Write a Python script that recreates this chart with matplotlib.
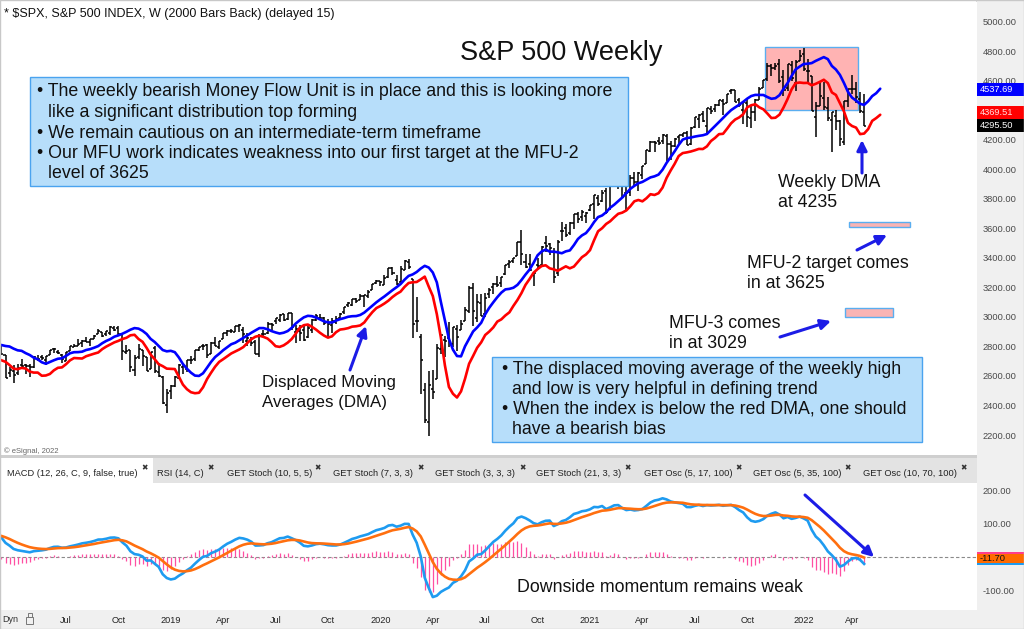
import numpy as np
import pandas as pd
import matplotlib
matplotlib.use("Agg")
import matplotlib.pyplot as plt
from matplotlib.collections import LineCollection
from matplotlib.patches import Rectangle, FancyArrowPatch

plt.rcParams['font.family'] = ['Liberation Sans', 'DejaVu Sans']

# ---------------- data: weekly S&P 500 bars (week starting Monday) ----------------
first_week = "2017-07-03"

opens = [
    # 2017 (Jul-Dec)
    2431, 2424, 2459, 2476, 2475, 2478, 2454, 2425, 2442, 2470, 2474, 2502, 2500,
    2521, 2551, 2555, 2578, 2588, 2588, 2580, 2579, 2603, 2657, 2653, 2685, 2684,
    # 2018
    2683, 2743, 2798, 2809, 2867, 2741, 2636, 2722, 2757, 2681, 2791, 2741, 2619,
    2633, 2618, 2671, 2675, 2670, 2663, 2718, 2726, 2705, 2742, 2781, 2763, 2742,
    2704, 2769, 2799, 2804, 2820, 2840, 2827, 2853, 2884, 2897, 2882, 2890, 2925,
    2926, 2882, 2763, 2773, 2640, 2726, 2773, 2730, 2650, 2790, 2630, 2591, 2401, 2498,
    # 2019
    2535, 2584, 2664, 2644, 2706, 2712, 2774, 2805, 2812, 2747, 2823, 2796,
    2848, 2888, 2908, 2898, 2940, 2909, 2840, 2841, 2830, 2752, 2885, 2889, 2951,
    2971, 2980, 3018, 2985, 3025, 2898, 2908, 2913, 2867, 2910, 2981, 2996, 2994, 2967,
    2944, 2966, 2996, 3034, 3079, 3081, 3123, 3117, 3144, 3141, 3183, 3227, 3240,
    # 2020
    3217, 3271, 3334, 3248, 3235, 3318, 3370, 3257, 2974, 2863, 2508, 2290, 2514,
    2578, 2782, 2845, 2854, 2815, 2915, 2913, 2969, 3038, 3199, 2994, 3094, 3018,
    3155, 3201, 3224, 3230, 3289, 3357, 3380, 3410, 3507, 3370, 3356, 3285, 3350,
    3349, 3500, 3493, 3441, 3296, 3583, 3600, 3566, 3634, 3698, 3675, 3684, 3723,
    # 2021
    3764, 3803, 3788, 3851, 3731, 3886, 3939, 3886, 3842, 3844, 3942, 3916, 3964,
    4034, 4124, 4183, 4193, 4191, 4229, 4169, 4158, 4216, 4230, 4248, 4174, 4285,
    4344, 4372, 4296, 4409, 4406, 4438, 4461, 4450, 4529, 4535, 4469, 4402, 4450,
    4348, 4385, 4471, 4553, 4610, 4697, 4689, 4712, 4628, 4548, 4707, 4588, 4734,
    # 2022
    4778, 4669, 4632, 4357, 4432, 4483, 4412, 4332, 4363, 4328, 4188, 4462, 4541,
    4547, 4474, 4385,
]

highs = [
    # 2017
    2436, 2463, 2477, 2484, 2480, 2490, 2474, 2454, 2477, 2472, 2500, 2509, 2520,
    2552, 2557, 2575, 2582, 2589, 2598, 2590, 2605, 2657, 2665, 2679, 2695, 2692,
    # 2018
    2743, 2787, 2810, 2873, 2870, 2763, 2754, 2748, 2789, 2787, 2802, 2741, 2661,
    2673, 2680, 2718, 2683, 2682, 2732, 2743, 2742, 2736, 2779, 2791, 2775, 2746,
    2760, 2804, 2816, 2848, 2841, 2863, 2853, 2876, 2916, 2901, 2908, 2941, 2940,
    2940, 2894, 2813, 2779, 2741, 2815, 2775, 2731, 2760, 2800, 2686, 2601, 2510, 2539,
    # 2019
    2598, 2681, 2672, 2709, 2738, 2775, 2794, 2814, 2816, 2830, 2861, 2836,
    2894, 2910, 2917, 2940, 2955, 2931, 2892, 2865, 2841, 2885, 2911, 2964, 2959,
    2996, 3017, 3018, 3028, 3027, 2945, 2943, 2939, 2940, 2985, 3021, 3022, 3002, 2983,
    2993, 3008, 3027, 3067, 3098, 3121, 3127, 3154, 3150, 3183, 3226, 3248, 3246,
    # 2020
    3282, 3329, 3337, 3285, 3347, 3385, 3393, 3259, 3137, 2883, 2553, 2637, 2641,
    2818, 2879, 2869, 2965, 2934, 2945, 2980, 3068, 3212, 3233, 3155, 3155, 3165,
    3199, 3233, 3279, 3272, 3352, 3387, 3399, 3509, 3588, 3425, 3428, 3306, 3397,
    3482, 3550, 3502, 3466, 3521, 3646, 3628, 3645, 3700, 3713, 3726, 3711, 3760,
    # 2021
    3827, 3824, 3859, 3871, 3889, 3935, 3950, 3929, 3914, 3960, 3983, 3979, 4020,
    4129, 4191, 4195, 4219, 4238, 4236, 4190, 4213, 4234, 4249, 4262, 4286, 4355,
    4372, 4394, 4415, 4429, 4440, 4468, 4478, 4513, 4545, 4535, 4486, 4466, 4476,
    4429, 4475, 4559, 4608, 4718, 4714, 4718, 4744, 4672, 4713, 4731, 4740, 4808,
    # 2022
    4819, 4749, 4632, 4453, 4595, 4590, 4490, 4385, 4402, 4331, 4465, 4546, 4637,
    4594, 4521, 4513,
]

lows = [
    # 2017
    2407, 2416, 2455, 2459, 2465, 2437, 2417, 2417, 2428, 2446, 2474, 2496, 2493,
    2521, 2547, 2550, 2544, 2566, 2566, 2557, 2578, 2598, 2624, 2652, 2673, 2673,
    # 2018
    2683, 2737, 2778, 2808, 2759, 2533, 2622, 2675, 2647, 2659, 2741, 2585, 2594,
    2553, 2605, 2660, 2612, 2595, 2655, 2702, 2708, 2676, 2741, 2753, 2749, 2691,
    2699, 2769, 2795, 2804, 2796, 2829, 2802, 2853, 2882, 2864, 2872, 2879, 2903,
    2874, 2710, 2750, 2628, 2603, 2717, 2670, 2631, 2649, 2621, 2593, 2409, 2347, 2444,
    # 2019
    2525, 2580, 2612, 2630, 2684, 2703, 2768, 2775, 2722, 2747, 2800, 2785,
    2848, 2873, 2891, 2898, 2901, 2825, 2801, 2805, 2750, 2728, 2873, 2887, 2912,
    2952, 2966, 2970, 2977, 2914, 2822, 2840, 2834, 2856, 2891, 2969, 2990, 2946, 2856,
    2892, 2952, 2985, 3023, 3066, 3077, 3091, 3117, 3070, 3125, 3183, 3224, 3212,
    # 2020
    3214, 3264, 3281, 3214, 3235, 3316, 3328, 2855, 2901, 2478, 2281, 2191, 2447,
    2578, 2749, 2727, 2797, 2798, 2766, 2909, 2969, 3026, 2936, 2966, 3004, 3000,
    3127, 3154, 3200, 3205, 3284, 3333, 3364, 3410, 3349, 3329, 3314, 3209, 3323,
    3349, 3442, 3419, 3233, 3280, 3511, 3543, 3553, 3594, 3633, 3647, 3636, 3715,
    # 2021
    3663, 3753, 3778, 3694, 3725, 3884, 3866, 3806, 3723, 3820, 3889, 3853, 3937,
    4034, 4118, 4118, 4164, 4169, 4057, 4062, 4154, 4167, 4220, 4164, 4165, 4279,
    4280, 4321, 4233, 4372, 4385, 4431, 4367, 4450, 4513, 4458, 4425, 4306, 4288,
    4278, 4329, 4470, 4551, 4595, 4630, 4672, 4585, 4495, 4532, 4600, 4531, 4733,
    # 2022
    4663, 4582, 4395, 4222, 4427, 4401, 4327, 4115, 4268, 4157, 4162, 4424, 4507,
    4451, 4381, 4292,
]

closes = [
    # 2017
    2425, 2459, 2473, 2472, 2476, 2441, 2426, 2443, 2477, 2461, 2500, 2502, 2519,
    2549, 2553, 2575, 2581, 2588, 2582, 2579, 2602, 2642, 2652, 2675, 2683, 2674,
    # 2018
    2743, 2786, 2810, 2873, 2762, 2620, 2732, 2747, 2691, 2786, 2752, 2588, 2641,
    2604, 2656, 2670, 2670, 2663, 2728, 2713, 2721, 2735, 2779, 2780, 2755, 2718,
    2760, 2801, 2802, 2819, 2840, 2833, 2850, 2874, 2902, 2872, 2905, 2930, 2914,
    2886, 2767, 2768, 2659, 2723, 2781, 2736, 2633, 2760, 2633, 2600, 2417, 2486, 2532,
    # 2019
    2596, 2671, 2665, 2707, 2708, 2776, 2793, 2804, 2743, 2822, 2800, 2834,
    2893, 2907, 2905, 2940, 2946, 2881, 2860, 2826, 2752, 2873, 2887, 2950, 2942,
    2990, 3014, 2977, 3026, 2932, 2919, 2889, 2847, 2926, 2979, 3007, 2992, 2961, 2952,
    2970, 2986, 3023, 3067, 3093, 3120, 3110, 3141, 3146, 3169, 3221, 3240, 3235,
    # 2020
    3265, 3329, 3295, 3226, 3328, 3380, 3338, 2954, 2972, 2711, 2305, 2541, 2489,
    2790, 2875, 2837, 2831, 2930, 2864, 2955, 3044, 3194, 3041, 3098, 3009, 3130,
    3185, 3224, 3216, 3271, 3351, 3373, 3397, 3508, 3427, 3341, 3319, 3298, 3348,
    3477, 3483, 3465, 3270, 3509, 3585, 3558, 3638, 3699, 3663, 3709, 3703, 3756,
    # 2021
    3825, 3768, 3841, 3714, 3887, 3935, 3907, 3811, 3842, 3943, 3913, 3975, 4020,
    4129, 4185, 4180, 4181, 4233, 4174, 4156, 4204, 4230, 4247, 4166, 4281, 4352,
    4370, 4327, 4412, 4395, 4437, 4468, 4442, 4509, 4535, 4459, 4433, 4455, 4357,
    4391, 4471, 4545, 4605, 4697, 4683, 4698, 4595, 4538, 4712, 4621, 4726, 4766,
    # 2022
    4677, 4663, 4398, 4432, 4500, 4419, 4349, 4385, 4329, 4204, 4463, 4543, 4546,
    4488, 4392, 4295.5,
]

# values printed in the right-hand value boxes
last_price = 4295.50
dma_high_last = 4537.69
dma_low_last = 4369.51
macd_signal_last = -11.70

# study settings
dma_len, dma_shift = 6, 4
macd_fast, macd_slow, macd_sig = 12, 26, 9

price_ticks = list(range(2200, 5001, 200))
hidden_price_ticks = [4400]          # covered by the value boxes in the original
macd_ticks = [-100, 100, 200]

# annotation levels
mfu2_level = (3611, 3645)
mfu3_level = (3001, 3062)
dist_zone = (4402, 4829)

tab_labels = ["MACD (12, 26, C, 9, false, true)", "RSI (14, C)", "GET Stoch (10, 5, 5)",
              "GET Stoch (7, 3, 3)", "GET Stoch (3, 3, 3)", "GET Stoch (21, 3, 3)",
              "GET Osc (5, 17, 100)", "GET Osc (5, 35, 100)", "GET Osc (10, 70, 100)"]

# ---------------- derived studies ----------------
n = len(closes)
assert len(opens) == len(highs) == len(lows) == n
dates = pd.date_range(first_week, periods=n, freq="7D")
idx = np.arange(n)
hi = pd.Series(highs, dtype=float)
lo = pd.Series(lows, dtype=float)
cl = pd.Series(closes, dtype=float)
dma_hi = hi.rolling(dma_len).mean().values
dma_lo = lo.rolling(dma_len).mean().values
x_dma = idx + dma_shift
macd = cl.ewm(span=macd_fast, adjust=False).mean() - cl.ewm(span=macd_slow, adjust=False).mean()
signal = macd.ewm(span=macd_sig, adjust=False).mean()
hist = (macd - signal).values

# ---------------- layout helpers (pixels) ----------------
W, H = 1024, 629
fig = plt.figure(figsize=(W / 100, H / 100), dpi=100)
fig.patch.set_facecolor("white")


def fx(px):
    return px / W


def fy(py):
    return 1 - py / H


i_ref = int(np.where(dates == pd.Timestamp("2020-03-30"))[0][0])
PX_REF, PX_STEP = 432.8, 4.031
PLOT_R = 977


def ix(px):
    return i_ref + (px - PX_REF) / PX_STEP


def price_at(py):
    return 5000 - (py - 21.7) / 0.14761


def py_price(p):
    return 21.7 + (5000 - p) * 0.14761


def macd_at(py):
    return (557 - py) / 0.335


# background strips
def frect(x0, y0, x1, y1, fc, ec="none", lw=0, z=-5):
    r = Rectangle((fx(x0), fy(y1)), fx(x1) - fx(x0), fy(y0) - fy(y1), transform=fig.transFigure,
                  facecolor=fc, edgecolor=ec, linewidth=lw, zorder=z)
    fig.add_artist(r)
    return r


frect(PLOT_R, 0, W, H, "#f0f0f0")
frect(0, 455, PLOT_R, 483, "#e3e3e3")
frect(0, 455, PLOT_R, 458, "#cfcfcf")
frect(0, 458, 153, 483, "#ffffff")
frect(0, 610, PLOT_R, H, "#f0f0f0")
frect(PLOT_R - 1, 0, PLOT_R, 455, "#dcdcdc")
frect(0, 0, W, H, "none", ec="#c8c8c8", lw=1.0, z=10)

# ---------------- price panel ----------------
ax = fig.add_axes([0, fy(455), fx(PLOT_R), (455 - 2) / H])
ax.set_xlim(ix(0), ix(PLOT_R))
ax.set_ylim(price_at(455), price_at(2))
for s in ax.spines.values():
    s.set_visible(False)
ax.set_xticks([])
ax.yaxis.tick_right()
ax.set_yticks(price_ticks)
ax.set_yticklabels(["" if t in hidden_price_ticks else f"{t:.2f}" for t in price_ticks])
ax.tick_params(axis="y", length=0, pad=4, labelsize=6.7, labelcolor="#4a4a4a")

# distribution zone box
ax.add_patch(Rectangle((ix(765), dist_zone[0]), ix(858) - ix(765), dist_zone[1] - dist_zone[0],
                       facecolor="#ffb3b3", edgecolor="#5aaef0", linewidth=1.0, zorder=1))
# MFU target boxes
ax.add_patch(Rectangle((ix(849), mfu2_level[0]), ix(910) - ix(849), mfu2_level[1] - mfu2_level[0],
                       facecolor="#f9b4b4", edgecolor="#5aaef0", linewidth=1.0, zorder=1))
ax.add_patch(Rectangle((ix(845), mfu3_level[0]), ix(893) - ix(845), mfu3_level[1] - mfu3_level[0],
                       facecolor="#f9b4b4", edgecolor="#5aaef0", linewidth=1.0, zorder=1))

segs = []
for i in idx:
    segs.append([(i, lows[i]), (i, highs[i])])
    segs.append([(i - 0.5, opens[i]), (i, opens[i])])
    segs.append([(i, closes[i]), (i + 0.5, closes[i])])
ax.add_collection(LineCollection(segs, colors="black", linewidths=1.1, zorder=3))
ax.plot(x_dma, dma_hi, color="#0000ff", lw=1.9, zorder=4, solid_capstyle="round")
ax.plot(x_dma, dma_lo, color="#ff0000", lw=1.9, zorder=4, solid_capstyle="round")

# ---------------- MACD panel ----------------
ax2 = fig.add_axes([0, fy(610), fx(PLOT_R), (610 - 483) / H])
ax2.set_xlim(ix(0), ix(PLOT_R))
ax2.set_ylim(macd_at(610), macd_at(483))
for s in ax2.spines.values():
    s.set_visible(False)
ax2.axhline(0, color="#8a8a8a", lw=0.8, ls=(0, (3, 2)), zorder=1)
ax2.vlines(idx, 0, hist, colors="#ff4fa3", lw=0.9, zorder=2)
ax2.plot(idx, macd, color="#1e9bf0", lw=1.9, zorder=3)
ax2.plot(idx, signal, color="#ff6f0f", lw=1.9, zorder=4)
ax2.yaxis.tick_right()
ax2.set_yticks(macd_ticks)
ax2.set_yticklabels([f"{t:.2f}" for t in macd_ticks])
ax2.tick_params(axis="y", length=0, pad=4, labelsize=6.7, labelcolor="#4a4a4a")

# date labels on first bar of each quarter (bar dated by its Friday)
fridays = dates + pd.Timedelta(days=4)
tick_pos, tick_lab = [], []
for i in range(1, n):
    m = fridays[i].month
    if m != fridays[i - 1].month and m in (1, 4, 7, 10) and i > ix(45):
        tick_pos.append(i)
        tick_lab.append(str(fridays[i].year) if m == 1 else fridays[i].strftime("%b"))
ax2.set_xticks(tick_pos)
ax2.set_xticklabels(tick_lab)
ax2.tick_params(axis="x", length=0, pad=4.5, labelsize=6.6, labelcolor="#222222")


# ---------------- right-hand value boxes ----------------
def value_box(py_c, txt, fc, tc, h=13):
    frect(PLOT_R, py_c - h / 2, W, py_c + h / 2, fc, z=6)
    fig.text(fx(980), fy(py_c), txt, color=tc, fontsize=6.7, va="center", ha="left", zorder=7)


pb = py_price(last_price)
value_box(py_price(dma_high_last), f"{dma_high_last:.2f}", "#0000ff", "white")
value_box(pb, f"{last_price:.2f}", "#000000", "white")
value_box(min(py_price(dma_low_last), pb - 13), f"{dma_low_last:.2f}", "#ff0000", "#ffe0e0")
frect(PLOT_R, 552, W, 554, "#ff3d8b", z=6)
value_box(558.5, f"{macd_signal_last:.2f}", "#ff6a00", "#111111", h=9)
frect(PLOT_R, 563, W, 565, "#1e9bf0", z=6)

# ---------------- texts ----------------
FS = 12.8
fig.text(fx(4), fy(14), "* $SPX, S&P 500 INDEX, W (2000 Bars Back) (delayed 15)",
         fontsize=9, va="center", ha="left", color="#111111")
fig.text(fx(4), fy(451), "\u00a9 eSignal, 2022", fontsize=5.5, va="center", ha="left", color="#666666")
fig.text(fx(561), fy(53), "S&P 500 Weekly", fontsize=19.5, va="center", ha="center", color="#111111")

BOX_FC, BOX_EC = "#b7defa", "#4aa3ef"
frect(30, 77, 628, 186, BOX_FC, ec=BOX_EC, lw=1.0, z=5)
box1 = [("• The weekly bearish Money Flow Unit is in place and this is looking more", 37, 92),
        ("like a significant distribution top forming", 48, 112.5),
        ("• We remain cautious on an intermediate-term timeframe", 37, 133),
        ("• Our MFU work indicates weakness into our first target at the MFU-2", 37, 153.5),
        ("level of 3625", 48, 174)]
for t, x, y in box1:
    fig.text(fx(x), fy(y), t, fontsize=FS, va="center", ha="left", color="#111111", zorder=6)

frect(492, 357, 922, 442, BOX_FC, ec=BOX_EC, lw=1.0, z=5)
box2 = [("• The displaced moving average of the weekly high", 501.5, 369),
        ("and low is very helpful in defining trend", 512.5, 389),
        ("• When the index is below the red DMA, one should", 501.5, 409.3),
        ("have a bearish bias", 512.5, 429.3)]
for t, x, y in box2:
    fig.text(fx(x), fy(y), t, fontsize=FS, va="center", ha="left", color="#111111", zorder=6)

labels = [("Displaced Moving", 262, 382, 12.2), ("Averages (DMA)", 262, 403, 12.2),
          ("Weekly DMA", 778, 182.5, FS), ("at 4235", 778, 202.5, FS),
          ("MFU-2 target comes", 747, 263.5, FS), ("in at 3625", 747, 283.5, FS),
          ("MFU-3 comes", 669, 323.5, FS), ("in at 3029", 669, 343.5, FS),
          ("Downside momentum remains weak", 517, 587, FS)]
for t, x, y, fs in labels:
    fig.text(fx(x), fy(y), t, fontsize=fs, va="center", ha="left", color="#111111", zorder=6)

ARROW = "#1c1ce6"
arrows = [((350, 370), (366, 326)), ((862, 173), (862, 140)), ((857, 250), (887, 235)),
          ((780, 337), (831, 321)), ((805, 495), (874, 557))]
for (x0, y0), (x1, y1) in arrows:
    fig.add_artist(FancyArrowPatch((fx(x0), fy(y0)), (fx(x1), fy(y1)), transform=fig.transFigure,
                                   arrowstyle="-|>", mutation_scale=15, lw=2.2, color=ARROW,
                                   shrinkA=0, shrinkB=0, zorder=8))

# tab bar
tab_x = [7, 157, 227, 333, 435, 536, 644, 753, 863]
close_x = [145, 211, 318, 421, 523, 628, 739, 848, 964]
for t, x, cx in zip(tab_labels, tab_x, close_x):
    fig.text(fx(x), fy(474), t, fontsize=6.7, va="center", ha="left", color="#222222", zorder=6)
    fig.text(fx(cx), fy(468), "\u2716", fontsize=5.5, va="center", ha="center", color="#333333",
             family="DejaVu Sans", zorder=6)

# bottom-left "Dyn" + lock
fig.text(fx(2), fy(619), "Dyn", fontsize=6.5, va="center", ha="left", color="#333333")
frect(26, 617, 33, 624, "none", ec="#777777", lw=0.7, z=6)
frect(27.5, 613, 31.5, 617, "none", ec="#777777", lw=0.7, z=6)

fig.savefig("out.png", dpi=100)
